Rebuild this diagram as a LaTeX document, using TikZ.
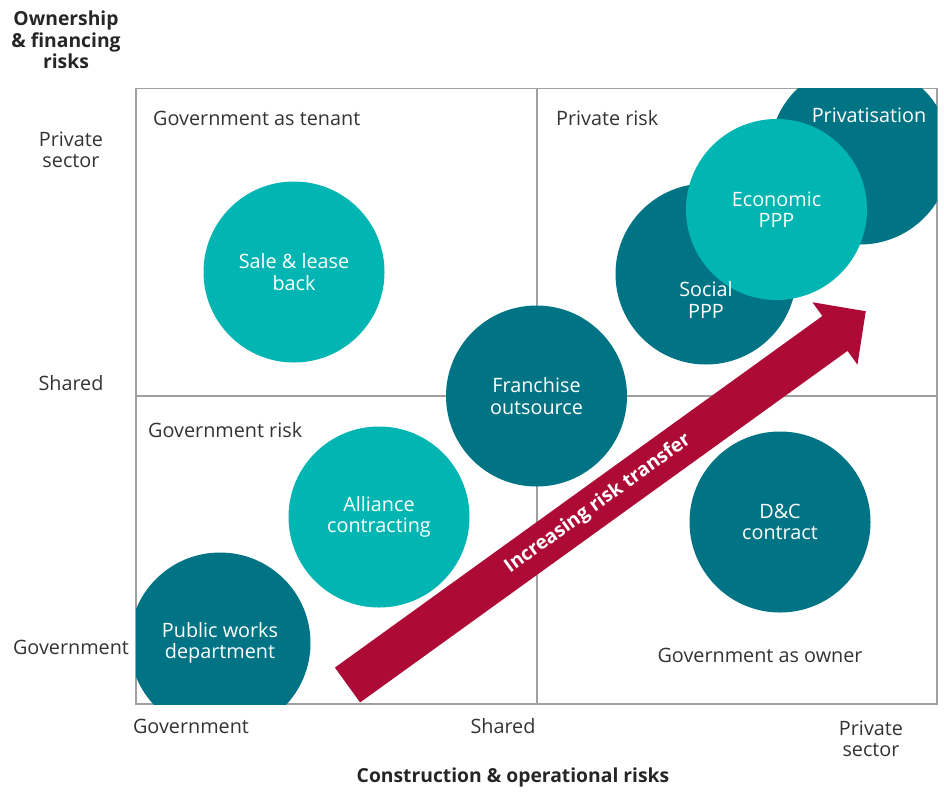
\documentclass[tikz,border=0pt]{standalone}
\usepackage{fontspec}
\setmainfont{Open Sans}
\newcommand\figfont{\fontsize{19.8}{21.5}\selectfont}
\newcommand\headfont{\fontsize{19.3}{21.5}\selectfont}
\definecolor{tealdark}{HTML}{007484}
\definecolor{teallight}{HTML}{00B5B2}
\definecolor{riskred}{HTML}{AD0A35}
\definecolor{framegray}{HTML}{A0A0A0}
\definecolor{inkgray}{HTML}{333333}
\begin{document}
\begin{tikzpicture}[x=1pt,y=-1pt,
  bubble/.style={circle, minimum size=181pt, inner sep=0pt, text=white, align=center, font=\figfont},
  dark/.style={bubble, fill=tealdark},
  light/.style={bubble, fill=teallight},
  bubbletext/.style={text=white, align=center, font=\figfont, inner sep=0pt},
  axislabel/.style={text=inkgray, align=center, font=\figfont, inner sep=0pt},
  quadlabel/.style={text=inkgray, font=\figfont, inner sep=0pt},
  axistitle/.style={text=black!85, align=center, font=\headfont\bfseries, inner sep=0pt},
  gridline/.style={draw=framegray, line width=1.1pt}]
\useasboundingbox (0,0) rectangle (944,793);

% frame and quadrant dividers
\draw[gridline] (136,88.5) rectangle (937,704);
\draw[gridline] (537,88.5) -- (537,704);
\draw[gridline] (136,396) -- (937,396);

% bubbles, clipped to the frame
\begin{scope}
  \clip (136,88.5) rectangle (937,704);
  \node[dark]  (priv)  at (860,154) {};
  \node[dark]  (social) at (706,274) {};
  \node[light] (econ)  at (776.5,209.5) {Economic\\PPP};
  \node[light] (sale)  at (294,272) {Sale \& lease\\back};
  \node[dark]  (franch) at (536.5,396) {Franchise\\outsource};
  \node[light] (alliance) at (379,517) {Alliance\\contracting};
  \node[dark]  (pwd)   at (220,643) {Public works\\department};
  \node[dark]  (dc)    at (780,522) {D\&C\\contract};
\end{scope}
\node[bubbletext] at (869,115) {Privatisation};
\node[bubbletext] at (706,300) {Social\\PPP};

% risk transfer arrow
\begin{scope}[shift={(347.5,685)}, rotate=35.8]
  \fill[riskred] (0,-21.5) -- (601,-21.5) -- (601,-38.5) -- (639,0)
     -- (601,38.5) -- (601,21.5) -- (0,21.5) -- cycle;
\end{scope}
\node[text=white, font=\headfont\bfseries, inner sep=0pt, rotate=35.8] (arrowtext) at (598,504) {Increasing risk transfer};

% quadrant captions
\node[quadlabel, anchor=west] (qtl) at (153,118) {Government as tenant};
\node[quadlabel, anchor=west] (qtr) at (556,118) {Private risk};
\node[quadlabel, anchor=west] (qbl) at (148,430) {Government risk};
\node[quadlabel] (qbr) at (760,655) {Government as owner};

% vertical axis
\node[axistitle] (ytitle) at (66,40) {Ownership\\\& financing\\risks};
\node[axislabel] (yp) at (71,150) {Private\\sector};
\node[axislabel] (ys) at (71,383) {Shared};
\node[axislabel] (yg) at (71,647) {Government};

% horizontal axis
\node[axislabel] (xg) at (191,726) {Government};
\node[axislabel] (xs) at (503,726) {Shared};
\node[axislabel] (xp) at (871,739) {Private\\sector};
\node[axistitle] (xtitle) at (513,777) {Construction \& operational risks};
\end{tikzpicture}
\end{document}
